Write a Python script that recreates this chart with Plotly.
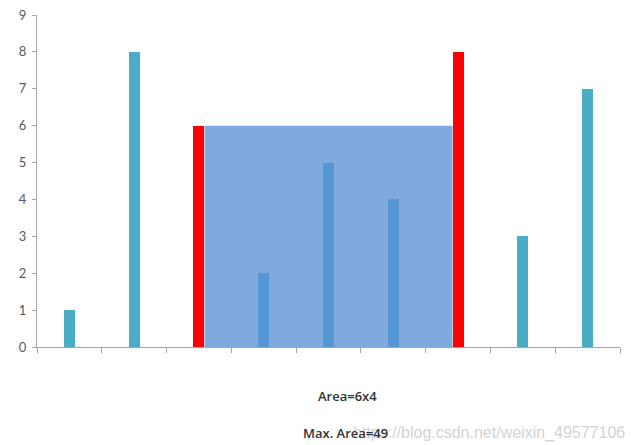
import plotly.graph_objects as go

heights = [1, 8, 6, 2, 5, 4, 8, 3, 7]
left_idx = 2
right_idx = 6
y_ticks = [0, 1, 2, 3, 4, 5, 6, 7, 8, 9]
area_label = "Area=6x4"
max_label = "Max. Area=49"
watermark = "https://blog.csdn.net/weixin_49577106"

BAR_W = 0.17
teal = "#4BACC6"
red = "#FF0000"
inner = "#5597D3"
rect_fill = "#80A9DE"

colors = []
for i, h in enumerate(heights):
    if i in (left_idx, right_idx):
        colors.append(red)
    elif left_idx < i < right_idx:
        colors.append(inner)
    else:
        colors.append(teal)

x = list(range(len(heights)))
fig = go.Figure()

fig.add_trace(go.Bar(x=x, y=heights, width=BAR_W, marker=dict(color=colors, line=dict(width=0)),
                     showlegend=False))

level = min(heights[left_idx], heights[right_idx])
fig.add_shape(type="rect", xref="x", yref="y",
              x0=left_idx + BAR_W / 2, x1=right_idx - BAR_W / 2, y0=0, y1=level,
              fillcolor=rect_fill, line=dict(width=0), layer="below")

fig.update_layout(
    width=628, height=437,
    margin=dict(l=29, r=16, t=7, b=98),
    paper_bgcolor="white", plot_bgcolor="white",
    font=dict(family="Lato, Open Sans, sans-serif", color="#595959", size=13),
    bargap=0,
    xaxis=dict(range=[-0.5, len(heights) - 0.5],
               tickvals=[i - 0.5 for i in range(len(heights) + 1)],
               ticktext=[""] * (len(heights) + 1),
               ticks="outside", ticklen=5, tickcolor="#A6A6A6",
               showline=True, linecolor="#A6A6A6", linewidth=1,
               showgrid=False, zeroline=False, fixedrange=True),
    yaxis=dict(range=[0, 9], tickvals=y_ticks,
               ticks="outside", ticklen=4, tickcolor="#A6A6A6",
               showline=True, linecolor="#A6A6A6", linewidth=1,
               showgrid=False, zeroline=False, automargin=False,
               ticklabeloverflow="allow", ticklabelstandoff=3,
               tickfont=dict(size=13, color="#595959")),
    annotations=[
        dict(text=area_label, xref="paper", yref="paper", x=0.532, y=-0.1476,
             showarrow=False, font=dict(size=13, color="#333333", family="Open Sans", weight=600),
             xanchor="center", yanchor="middle"),
        dict(text=watermark, xref="paper", yref="paper", x=1.012, y=-0.259,
             showarrow=False, font=dict(size=16, color="#D3D3D3", family="Liberation Sans"),
             xanchor="right", yanchor="middle"),
        dict(text=max_label, xref="paper", yref="paper", x=0.53, y=-0.259,
             showarrow=False, font=dict(size=13, color="#333333", family="Open Sans", weight=600),
             xanchor="center", yanchor="middle"),
    ],
)

fig.write_html("out.html")
